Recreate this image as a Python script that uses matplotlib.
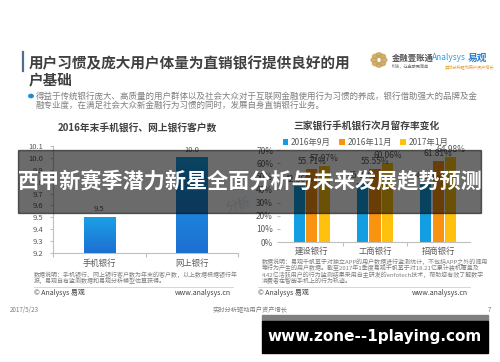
import numpy as np
import matplotlib
matplotlib.use("Agg")
import matplotlib.pyplot as plt
from matplotlib.patches import Rectangle, Circle
from matplotlib.lines import Line2D

plt.rcParams['font.family'] = ['Noto Sans CJK SC', 'DejaVu Sans']

# ---- data ----
left_title = '2016年末手机银行、网上银行客户数'
left_cats = ['手机银行', '网上银行']
left_vals = [9.5, 10.0]
left_ticks = [9.2, 9.3, 9.4, 9.5, 9.6, 9.7, 9.8, 9.9, 10.0, 10.1]

right_title = '三家银行手机银行次月留存率变化'
banks = ['建设银行', '工商银行', '招商银行']
series_names = ['2016年9月', '2016年11月', '2017年1月']
sep_2016 = [42.36, 45.02, 44.60]
nov_2016 = [55.71, 55.55, 61.81]
jan_2017 = [57.97, 60.06, 64.98]
pct_ticks = [0, 10, 20, 30, 40, 50, 60, 70]

W, H = 500, 362
fig = plt.figure(figsize=(W / 100, H / 100), dpi=100)
fig.patch.set_facecolor('white')


def fx(x):
    return x / W


def fy(y):
    return 1 - y / H


def add_axes_px(x0, y0, x1, y1):
    return fig.add_axes([fx(x0), fy(y1), (x1 - x0) / W, (y1 - y0) / H])


grey = '#595959'
light = '#bfbfbf'

# ---- header ----
fig.add_artist(Line2D([fx(23), fx(23)], [fy(52), fy(71)], color='#4f6d8f', lw=1.6))
fig.text(fx(29), fy(63), '用户习惯及庞大用户体量为直销银行提供良好的用', fontsize=10.5,
         fontweight='bold', color='#404040', va='center')
fig.text(fx(29), fy(79), '户基础', fontsize=10.5, fontweight='bold', color='#404040', va='center')

# logos
for a in np.linspace(0, 2 * np.pi, 8, endpoint=False):
    fig.add_artist(Circle((fx(379 + 5 * np.cos(a)), fy(60 + 5 * np.sin(a))), 0.006,
                          transform=fig.transFigure, color='#c9a25a', alpha=0.8))
fig.text(fx(392), fy(58), '金融壹账通', fontsize=6, fontweight='bold', color='#505050', va='center')
fig.text(fx(392), fy(66.5), '科技，让金融更简单', fontsize=3, color='#707070', va='center')
fig.text(fx(432), fy(58), 'Analysys', fontsize=6, style='italic', color='#2a9ee0', va='center')
fig.text(fx(468), fy(58), '易观', fontsize=7, fontweight='bold', color='#2a7ed0', va='center')
fig.text(fx(445), fy(66.5), '实时分析驱动用户资产增长', fontsize=3, color='#e8a030', va='center')

# bullet
fig.add_artist(Circle((fx(31), fy(96)), 0.0045, transform=fig.transFigure, color='#1e8fd6'))
fig.text(fx(36), fy(96), '得益于传统银行庞大、高质量的用户群体以及社会大众对于互联网金融使用行为习惯的养成，银行借助强大的品牌及金',
         fontsize=6.1, color='#7f7f7f', va='center')
fig.text(fx(36), fy(105), '融专业度，在满足社会大众新金融行为习惯的同时，发展自身直销银行业务。',
         fontsize=6.1, color='#7f7f7f', va='center')

# ---- left chart ----
fig.text(fx(137), fy(129), left_title, fontsize=7, fontweight='bold', color='#404040',
         ha='center', va='center')
ax1 = add_axes_px(53, 146, 238, 253)
x1 = np.arange(len(left_cats))
bars = ax1.bar(x1, left_vals, width=0.34, color='#1a8fe0', zorder=2)
grad = np.linspace(0, 1, 64).reshape(-1, 1)
cmap = matplotlib.colors.LinearSegmentedColormap.from_list('b', ['#1e6fd2', '#1aa0e6'])
for b in bars:
    ax1.imshow(grad, extent=[b.get_x(), b.get_x() + b.get_width(), 9.2, b.get_height()],
               aspect='auto', cmap=cmap, origin='lower', zorder=3)
    ax1.annotate(f'{b.get_height():.1f}', (b.get_x() + b.get_width() / 2, b.get_height()),
                 xytext=(0, 3), textcoords='offset points', ha='center', va='bottom',
                 fontsize=5.5, color=grey)
ax1.set_xlim(-0.5, 1.5)
ax1.set_ylim(9.2, 10.1)
ax1.set_yticks(left_ticks)
ax1.set_yticklabels([f'{t:.1f}' for t in left_ticks])
ax1.set_xticks([-0.5, 0.5, 1.5])
ax1.set_xticklabels([])
ax1.tick_params(axis='y', labelsize=5.5, labelcolor=grey, length=2, color=light, pad=5)
ax1.tick_params(axis='x', length=3, color=light)
for s in ['top', 'right']:
    ax1.spines[s].set_visible(False)
for s in ['left', 'bottom']:
    ax1.spines[s].set_color(light)
    ax1.spines[s].set_linewidth(0.8)
for i, c in enumerate(left_cats):
    ax1.text(i, -0.1, c, transform=ax1.get_xaxis_transform(), ha='center', va='center',
             fontsize=6, color=grey)
ax1.text(1.5, 9.55, '分析', fontsize=9, color='#d6e8f4', rotation=15, ha='center', zorder=1)

# ---- right chart ----
fig.text(fx(366), fy(127), right_title, fontsize=7, fontweight='bold', color='#404040',
         ha='center', va='center')
ax2 = add_axes_px(280, 150, 470, 242)
x2 = np.arange(len(banks))
colors = ['#139ee2', '#fa9410', '#ffc10e']
step = 0.197
for k, (vals, col, name) in enumerate(zip([sep_2016, nov_2016, jan_2017], colors, series_names)):
    rects = ax2.bar(x2 + (k - 1) * step, [v / 100 for v in vals], width=0.174, color=col,
                    label=name, zorder=2)
    for r, v in zip(rects, vals):
        ax2.annotate(f'{v:.2f}%', (r.get_x() + r.get_width() / 2, r.get_height()),
                     xytext=(0, 2), textcoords='offset points', ha='center', va='bottom',
                     fontsize=6, color=grey)
ax2.set_xlim(-0.5, 2.5)
ax2.set_ylim(0, 0.7)
ax2.set_yticks([t / 100 for t in pct_ticks])
ax2.set_yticklabels([f'{t}%' for t in pct_ticks])
ax2.set_xticks([0.5, 1.5])
ax2.set_xticklabels([])
ax2.tick_params(axis='y', labelsize=6, labelcolor=grey, length=2, color=light, pad=3)
ax2.tick_params(axis='x', length=3, color=light)
for s in ['top', 'right', 'left']:
    ax2.spines[s].set_visible(False)
ax2.spines['bottom'].set_color(light)
ax2.spines['bottom'].set_linewidth(0.8)
for i, c in enumerate(banks):
    ax2.text(i, -0.1, c, transform=ax2.get_xaxis_transform(), ha='center', va='center',
             fontsize=6, color=grey)
ax2.legend(loc='center', bbox_to_anchor=(0.45, 1.08), ncol=3, frameon=False, fontsize=6,
           handlelength=0.7, handleheight=0.7, handletextpad=0.3, columnspacing=1.0,
           labelcolor=grey)

# ---- notes / footer ----
note_kw = dict(fontsize=4.3, color='#7f7f7f', va='center')
fig.text(fx(34), fy(275), '数据说明：手机银行、网上银行客户数为年末的客户数，以上数据根据银行年', **note_kw)
fig.text(fx(34), fy(281), '报，易观自有监测数据和易观分析模型估算获得。', **note_kw)
fig.text(fx(262), fy(262), '数据说明：易观千帆基于对独立APP的用户数据进行监测统计，不包括APP之外的调用', **note_kw)
fig.text(fx(262), fy(268), '等行为产生的用户数据。截至2017年1季度易观千帆基于对18.21亿累计装机覆盖及', **note_kw)
fig.text(fx(262), fy(274.5), '4.42亿活跃用户的行为监测结果采用自主研发的enfotech技术，帮助您有效了解数字', **note_kw)
fig.text(fx(262), fy(281), '消费者在智能手机上的行为轨迹。', **note_kw)
for xa, xb in [(34, 233), (258, 470)]:
    fig.add_artist(Line2D([fx(xa), fx(xb)], [fy(286.5), fy(286.5)], color='#d0d0d0', lw=0.6))
    fig.text(fx(xa), fy(293), '© Analysys 易观', fontsize=5, color='#404040', va='center')
    fig.text(fx(xb - 2), fy(293), 'www.analysys.cn', fontsize=5, color='#404040', va='center', ha='right')
fig.text(fx(10), fy(310), '2017/5/23', fontsize=4.5, color='#7f7f7f', va='center')
fig.text(fx(250), fy(310), '实时分析驱动用户资产增长', fontsize=4.5, color='#7f7f7f', va='center', ha='center')
fig.text(fx(488), fy(310), '7', fontsize=4.5, color='#7f7f7f', va='center')

# ---- overlays ----
fig.add_artist(Rectangle((fx(18), fy(213)), (481 - 18) / W, (213 - 150) / H,
                         transform=fig.transFigure, color='black', alpha=0.58, zorder=10))
fig.text(fx(250), fy(182), '西甲新赛季潜力新星全面分析与未来发展趋势预测', fontsize=15.2,
         fontweight='bold', color='white', ha='center', va='center', zorder=11)
fig.add_artist(Rectangle((fx(262), fy(321)), (488 - 262) / W, 6 / H,
                         transform=fig.transFigure, color='#808080', zorder=10))
fig.add_artist(Rectangle((fx(262), fy(353)), (488 - 262) / W, 32 / H,
                         transform=fig.transFigure, color='black', zorder=10))
fig.text(fx(375), fy(337), 'www.zone--1playing.com', fontsize=11, fontweight='bold',
         color='white', ha='center', va='center', zorder=11, family='DejaVu Sans')

fig.savefig('out.png', dpi=100)
